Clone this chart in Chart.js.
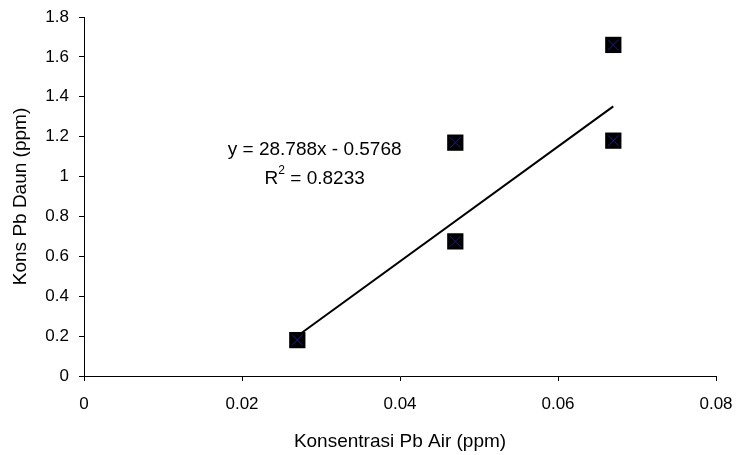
<!DOCTYPE html>
<html>
<head>
<meta charset="utf-8">
<script src="https://cdn.jsdelivr.net/npm/chart.js@4"></script>
<style>
  html, body { margin: 0; padding: 0; background: #fff; }
  #wrap { width: 742px; height: 455px; }
</style>
</head>
<body>
<div id="wrap"><canvas id="scatterChart" width="742" height="455"></canvas></div>
<script>
// Konsentrasi Pb Air (ppm) vs Kons Pb Daun (ppm)
const pbAir = [0.027, 0.047, 0.047, 0.067, 0.067];
const pbDaun = [0.18, 0.675, 1.17, 1.18, 1.66];

// trendline from the chart label
const slope = 28.788;
const intercept = -0.5768;
const rSquared = 0.8233;

const xTicks = [0, 0.02, 0.04, 0.06, 0.08];
const yTicks = [0, 0.2, 0.4, 0.6, 0.8, 1, 1.2, 1.4, 1.6, 1.8];

const points = pbAir.map((x, i) => ({ x: x, y: pbDaun[i] }));
const xMin = Math.min(...pbAir), xMax = Math.max(...pbAir);
const trend = [xMin, xMax].map(x => ({ x: x, y: slope * x + intercept }));

const FAMILY = '"Liberation Sans", Arial, sans-serif';
const tickFont = { family: FAMILY, size: 17 };
const titleFont = { family: FAMILY, size: 19 };
const fmt = v => String(Number(v.toFixed(3)));

const equationLabel = {
    id: 'equationLabel',
    afterDatasetsDraw(chart) {
        const ctx = chart.ctx;
        const xs = chart.scales.x, ys = chart.scales.y;
        const cx = xs.getPixelForValue(0.0292);
        const cy = ys.getPixelForValue(1.133);
        const big = '19px ' + FAMILY, small = '12px ' + FAMILY;
        ctx.save();
        ctx.fillStyle = '#000';
        ctx.font = big;
        ctx.textAlign = 'center';
        ctx.textBaseline = 'middle';
        ctx.fillText('y = ' + slope + 'x - ' + Math.abs(intercept), cx, cy);
        // R² line with a small superscript
        const rest = ' = ' + rSquared;
        const wR = ctx.measureText('R').width;
        const wRest = ctx.measureText(rest).width;
        ctx.font = small;
        const w2 = ctx.measureText('2').width;
        const x0 = cx - (wR + w2 + wRest) / 2;
        const y2 = cy + 29;
        ctx.textAlign = 'left';
        ctx.font = big;
        ctx.fillText('R', x0, y2);
        ctx.font = small;
        ctx.fillText('2', x0 + wR, y2 - 8);
        ctx.font = big;
        ctx.fillText(rest, x0 + wR + w2, y2);
        ctx.restore();
    }
};

new Chart(document.getElementById('scatterChart').getContext('2d'), {
    type: 'scatter',
    data: {
        datasets: [
            {
                label: 'trend',
                type: 'line',
                data: trend,
                borderColor: '#000',
                borderWidth: 2,
                pointRadius: 0,
                fill: false,
                order: 3
            },
            {
                label: 'data',
                data: points,
                pointStyle: 'rect',
                pointRadius: 11.5,
                pointHoverRadius: 11.5,
                backgroundColor: '#000',
                borderColor: '#000',
                borderWidth: 0,
                order: 2
            },
            {
                label: 'data x',
                data: points,
                pointStyle: 'crossRot',
                pointRadius: 7.5,
                pointHoverRadius: 7.5,
                borderColor: '#1c1c8c',
                borderWidth: 1,
                order: 1
            }
        ]
    },
    options: {
        responsive: false,
        animation: false,
        events: [],
        layout: { padding: { left: 5, right: 26, top: 17, bottom: 0 } },
        plugins: {
            legend: { display: false },
            tooltip: { enabled: false }
        },
        scales: {
            x: {
                type: 'linear',
                min: 0,
                max: 0.08,
                afterBuildTicks: axis => { axis.ticks = xTicks.map(v => ({ value: v })); },
                ticks: { color: '#000', font: tickFont, padding: 13, callback: fmt },
                grid: { display: true, drawOnChartArea: false, drawTicks: true, tickLength: 5, color: '#000' },
                border: { color: '#000', width: 1 },
                title: { display: true, text: 'Konsentrasi Pb Air (ppm)', color: '#000', font: titleFont, padding: { top: 4, bottom: 2 } },
                afterFit: axis => { axis.height = 79; axis.paddingLeft = 0; axis.paddingRight = 0; }
            },
            y: {
                type: 'linear',
                min: 0,
                max: 1.8,
                afterBuildTicks: axis => { axis.ticks = yTicks.map(v => ({ value: v })); },
                ticks: { color: '#000', font: tickFont, padding: 10, callback: fmt },
                grid: { display: true, drawOnChartArea: false, drawTicks: true, tickLength: 5, color: '#000' },
                border: { color: '#000', width: 1 },
                title: { display: true, text: 'Kons Pb Daun (ppm)', color: '#000', font: titleFont, padding: { top: 4, bottom: 4 } },
                afterFit: axis => { axis.width = 79; axis.paddingTop = 0; axis.paddingBottom = 0; }
            }
        }
    },
    plugins: [equationLabel]
});
</script>
</body>
</html>
